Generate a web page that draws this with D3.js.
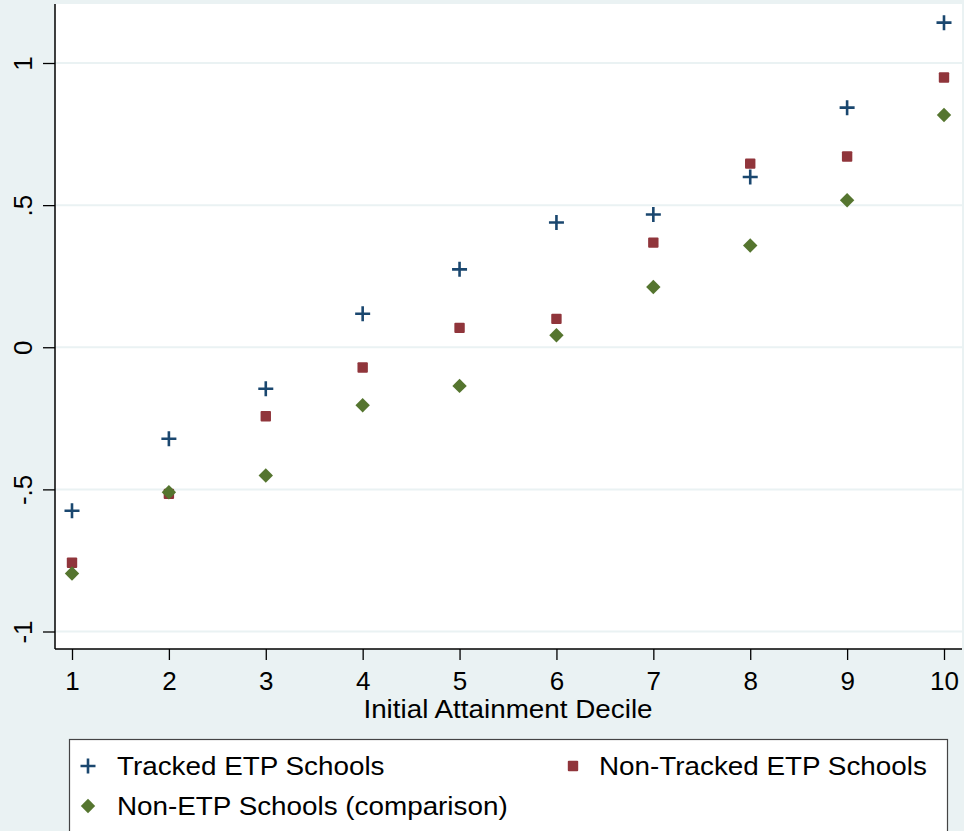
<!DOCTYPE html>
<html>
<head>
<meta charset="utf-8">
<script src="https://cdn.jsdelivr.net/npm/d3@7"></script>
<style>
  html, body { margin: 0; padding: 0; background: #EAF2F3; }
  svg { display: block; font-family: "Liberation Sans", Arial, Helvetica, sans-serif; }
</style>
</head>
<body>
<svg id="chart" width="964" height="831"></svg>
<script>
// Deciles of initial attainment and mean outcome by school group
const deciles = [1, 2, 3, 4, 5, 6, 7, 8, 9, 10];
const trackedETP = [-0.575, -0.322, -0.146, 0.118, 0.274, 0.439, 0.467, 0.599, 0.843, 1.142];
const nonTrackedETP = [-0.758, -0.516, -0.243, -0.071, 0.068, 0.100, 0.368, 0.646, 0.671, 0.949];
const nonETP = [-0.796, -0.510, -0.451, -0.204, -0.136, 0.042, 0.212, 0.358, 0.517, 0.817];

const yTicks = [-1, -0.5, 0, 0.5, 1];
const yTickLabels = ["-1", "-.5", "0", ".5", "1"];
const xTitle = "Initial Attainment Decile";
const seriesNames = ["Tracked ETP Schools", "Non-Tracked ETP Schools", "Non-ETP Schools (comparison)"];

const colors = { navy: "#1A476F", maroon: "#90353B", green: "#55752F" };
const bg = "#EAF2F3";

const svg = d3.select("#chart");
const W = 964, H = 831;

// plot region
const plot = { left: 55, right: 962, top: 4, bottom: 649 };

const x = d3.scaleLinear().domain([1, 10]).range([72, 944]);
const y = d3.scaleLinear().domain([-1, 1]).range([631.5, 63]);

// the label face runs a little wider than Liberation Sans at the same height
const WIDEN = 1.07;
function widen(sel) {
  sel.each(function () {
    const len = this.getComputedTextLength();
    d3.select(this).attr("textLength", len * WIDEN).attr("lengthAdjust", "spacingAndGlyphs");
  });
}

svg.append("rect").attr("width", W).attr("height", H).attr("fill", bg);
svg.append("rect")
  .attr("x", plot.left).attr("y", plot.top)
  .attr("width", plot.right - plot.left).attr("height", plot.bottom - plot.top)
  .attr("fill", "#fff");

// horizontal grid lines
svg.append("g").selectAll("line").data(yTicks).join("line")
  .attr("x1", plot.left).attr("x2", plot.right)
  .attr("y1", d => y(d)).attr("y2", d => y(d))
  .attr("stroke", bg).attr("stroke-width", 2);

// y axis
const yAxis = d3.axisLeft(y).tickValues(yTicks)
  .tickFormat((d, i) => yTickLabels[i]).tickSize(12).tickPadding(0);
const gy = svg.append("g").attr("transform", `translate(${plot.left},0)`).call(yAxis);
gy.select(".domain").attr("d", `M0,${plot.top}V${plot.bottom}`).attr("stroke", "#000").attr("stroke-width", 1.5);
gy.selectAll(".tick line").attr("stroke", "#000").attr("stroke-width", 1.3);
gy.selectAll(".tick text")
  .attr("x", 0).attr("y", 0)
  .attr("transform", "translate(-23,0) rotate(-90)")
  .attr("text-anchor", "middle").attr("dy", 0)
  .attr("font-size", 26).attr("fill", "#000")
  .style("font-family", "'Liberation Sans', Arial, sans-serif");

// x axis
const xAxis = d3.axisBottom(x).tickValues(deciles).tickFormat(d3.format("d")).tickSize(11).tickPadding(0);
const gx = svg.append("g").attr("transform", `translate(0,${plot.bottom})`).call(xAxis);
gx.select(".domain").attr("d", `M${plot.left},0H${plot.right}`).attr("stroke", "#000").attr("stroke-width", 1.5);
gx.selectAll(".tick line").attr("stroke", "#000").attr("stroke-width", 1.3);
gx.selectAll(".tick text")
  .attr("y", 41).attr("dy", 0)
  .attr("font-size", 26).attr("fill", "#000")
  .style("font-family", "'Liberation Sans', Arial, sans-serif");

svg.append("text")
  .attr("x", 508).attr("y", 718)
  .attr("text-anchor", "middle").attr("font-size", 26).attr("fill", "#000")
  .text(xTitle)
  .call(widen);

// marker shapes
function plus(g, cx, cy, color) {
  const s = 7.5;
  g.append("path")
    .attr("d", `M${cx - s},${cy}H${cx + s}M${cx},${cy - s}V${cy + s}`)
    .attr("stroke", color).attr("stroke-width", 2.6).attr("fill", "none");
}
function square(g, cx, cy, color) {
  const s = 5.2;
  g.append("rect").attr("x", cx - s).attr("y", cy - s)
    .attr("width", 2 * s).attr("height", 2 * s).attr("rx", 1)
    .attr("fill", color);
}
function diamond(g, cx, cy, color) {
  const s = 7.2;
  g.append("path")
    .attr("d", `M${cx},${cy - s}L${cx + s},${cy}L${cx},${cy + s}L${cx - s},${cy}Z`)
    .attr("fill", color);
}

const series = [
  { values: trackedETP, shape: plus, color: colors.navy },
  { values: nonTrackedETP, shape: square, color: colors.maroon },
  { values: nonETP, shape: diamond, color: colors.green }
];

const marks = svg.append("g");
series.forEach(s => {
  const g = marks.append("g");
  deciles.forEach((d, i) => s.shape(g, x(d), y(s.values[i]), s.color));
});

// legend
const legend = svg.append("g");
legend.append("rect")
  .attr("x", 69.5).attr("y", 739.5).attr("width", 878).attr("height", 120)
  .attr("fill", "#fff").attr("stroke", "#444").attr("stroke-width", 1.2);

const legendItems = [
  { mx: 88, my: 766, tx: 117, ty: 775, s: series[0], label: seriesNames[0] },
  { mx: 573, my: 766, tx: 599, ty: 775, s: series[1], label: seriesNames[1] },
  { mx: 88, my: 806, tx: 117, ty: 815, s: series[2], label: seriesNames[2] }
];
legendItems.forEach(it => {
  const g = legend.append("g");
  it.s.shape(g, it.mx, it.my, it.s.color);
  g.append("text").attr("x", it.tx).attr("y", it.ty)
    .attr("font-size", 26).attr("fill", "#000").text(it.label)
    .call(widen);
});
</script>
</body>
</html>
